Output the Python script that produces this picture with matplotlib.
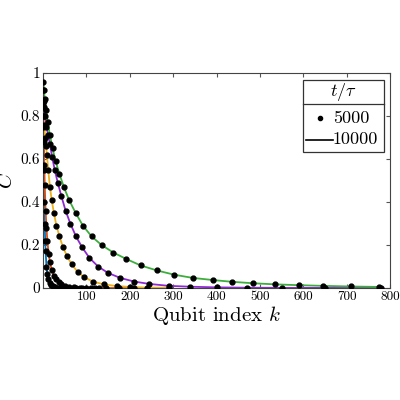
import matplotlib
matplotlib.use("Agg")
import matplotlib.pyplot as plt
from matplotlib.patches import Rectangle
from matplotlib.lines import Line2D

plt.rcParams['font.family'] = 'serif'
plt.rcParams['font.serif'] = ['cmr10', 'DejaVu Serif']
plt.rcParams['mathtext.fontset'] = 'cm'
plt.rcParams['axes.formatter.use_mathtext'] = True

k_blue = [1, 2, 3, 4, 5, 6, 8, 10, 12, 15, 18, 22, 27, 33, 40, 50, 60, 75, 90, 110, 130]
c_blue = [0.75, 0.55, 0.40, 0.30, 0.22, 0.17, 0.10, 0.065, 0.042, 0.025, 0.015, 0.008, 0.004, 0.002, 0.001, 0.0005, 0.0002, 0.0001, 0.0, 0.0, 0.0]

k_red = [1, 2, 3, 4, 6, 8, 10, 13, 16, 20, 25, 30, 36, 42, 50, 60, 72, 86, 100, 120, 145, 175, 210]
c_red = [0.80, 0.68, 0.57, 0.48, 0.36, 0.28, 0.22, 0.16, 0.12, 0.085, 0.057, 0.040, 0.027, 0.018, 0.011, 0.006, 0.003, 0.0015, 0.0008, 0.0003, 0.0001, 0.0, 0.0]

k_yel = [1, 2, 3, 5, 7, 9, 12, 16, 20, 25, 31, 38, 46, 55, 66, 80, 95, 115, 140, 170, 200, 240, 290]
c_yel = [0.86, 0.80, 0.76, 0.70, 0.66, 0.62, 0.55, 0.47, 0.41, 0.35, 0.29, 0.24, 0.19, 0.15, 0.11, 0.075, 0.050, 0.030, 0.017, 0.009, 0.005, 0.002, 0.001]

k_pur = [1, 2, 3, 5, 8, 12, 16, 21, 27, 34, 42, 52, 63, 76, 90, 107, 127, 150, 178, 210, 245, 290, 340, 400, 470, 550, 650, 780]
c_pur = [0.92, 0.87, 0.84, 0.80, 0.75, 0.71, 0.67, 0.61, 0.55, 0.49, 0.43, 0.36, 0.30, 0.24, 0.19, 0.14, 0.10, 0.07, 0.047, 0.030, 0.019, 0.010, 0.006, 0.003, 0.0015, 0.0007, 0.0003, 0.0001]

k_grn = [1, 2, 4, 7, 11, 16, 22, 29, 38, 48, 60, 75, 92, 112, 135, 162, 192, 225, 262, 302, 345, 392, 435, 485, 535, 590, 645, 710, 775]
c_grn = [0.96, 0.92, 0.88, 0.83, 0.77, 0.71, 0.65, 0.59, 0.53, 0.47, 0.41, 0.35, 0.29, 0.24, 0.20, 0.165, 0.135, 0.105, 0.082, 0.062, 0.047, 0.037, 0.029, 0.022, 0.017, 0.013, 0.010, 0.007, 0.005]

series = [
    (k_blue, c_blue, '#0072BD'),
    (k_red, c_red, '#D95319'),
    (k_yel, c_yel, '#EDB120'),
    (k_pur, c_pur, '#8E2BD0'),
    (k_grn, c_grn, '#3DAE3D'),
]

xticks = [100, 200, 300, 400, 500, 600, 700, 800]
yticks = [0, 0.2, 0.4, 0.6, 0.8, 1]
ytick_labels = ['0', '0.2', '0.4', '0.6', '0.8', '1']

fig = plt.figure(figsize=(4, 4), dpi=100)
ax = fig.add_axes([0.1075, 0.28, 0.8675, 0.5375])

for k, c, col in series:
    ax.plot(k, c, color=col, lw=1.3, zorder=2)
for k, c, col in series:
    ax.plot(k, c, 'o', color='black', ms=3.5, zorder=3)

ax.set_xlim(0, 800)
ax.set_ylim(0, 1)
ax.set_xticks(xticks)
ax.set_xticklabels([str(v) for v in xticks], fontsize=9.5)
ax.set_yticks(yticks)
ax.set_yticklabels(ytick_labels, fontsize=11)
ax.tick_params(direction='in', top=True, right=True, length=3, color='#555555', pad=2)
for s in ax.spines.values():
    s.set_color('#444444')
    s.set_linewidth(0.8)
ax.set_xlabel('Qubit index $k$', fontsize=15, labelpad=1)
ax.set_ylabel(r'$\overline{C}$', fontsize=15)
ax.yaxis.set_label_coords(-0.075, 0.5)

# legend box
x0, x1, yb, yt, ys = 0.75, 0.983, 0.633, 0.967, 0.856
ax.add_patch(Rectangle((x0, yb), x1 - x0, yt - yb, transform=ax.transAxes,
                       facecolor='white', edgecolor='#333333', lw=0.9, zorder=5))
ax.add_line(Line2D([x0, x1], [ys, ys], transform=ax.transAxes, color='#333333', lw=0.9, zorder=6))
ax.text((x0 + x1) / 2, (yt + ys) / 2, r'$t/\tau$', transform=ax.transAxes,
        ha='center', va='center', fontsize=13, zorder=7)
ax.plot([0.797], [0.79], 'o', color='black', ms=3, transform=ax.transAxes, zorder=7, clip_on=False)
ax.text(0.835, 0.79, '5000', transform=ax.transAxes, ha='left', va='center', fontsize=13, zorder=7)
ax.add_line(Line2D([0.758, 0.835], [0.69, 0.69], transform=ax.transAxes, color='black', lw=1.2, zorder=7))
ax.text(0.835, 0.69, '10000', transform=ax.transAxes, ha='left', va='center', fontsize=13, zorder=7)

fig.savefig('out.png', dpi=100)
